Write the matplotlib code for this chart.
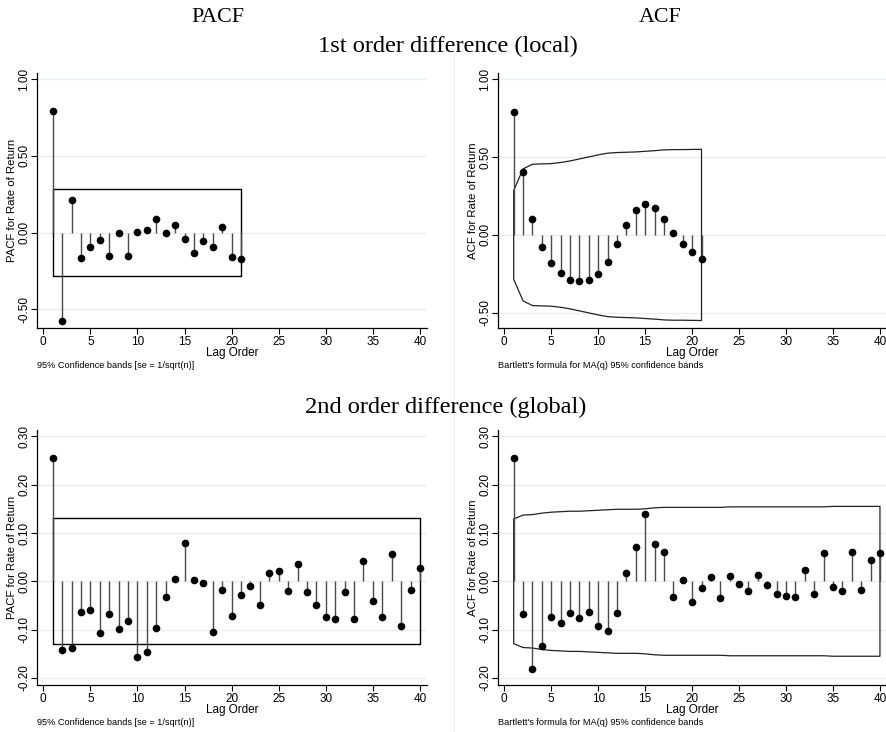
import numpy as np
import matplotlib
matplotlib.use('Agg')
import matplotlib.pyplot as plt
from matplotlib.lines import Line2D

plt.rcParams['font.family'] = ['Liberation Sans', 'DejaVu Sans']

# 1st order difference (local), lags 1-21
lags_local = np.arange(1, 22)
pacf_local = [0.790, -0.577, 0.211, -0.165, -0.096, -0.046, -0.155, 0.000, -0.155, 0.002,
              0.015, 0.091, 0.000, 0.052, -0.044, -0.133, -0.052, -0.094, 0.035, -0.157, -0.170]
acf_local = [0.788, 0.405, 0.103, -0.075, -0.182, -0.246, -0.289, -0.298, -0.289, -0.248,
             -0.173, -0.056, 0.062, 0.158, 0.201, 0.173, 0.101, 0.011, -0.060, -0.113, -0.154]
pacf_band_local = 0.283
acf_band_local = [0.285, 0.424, 0.454, 0.456, 0.458, 0.465, 0.475, 0.488, 0.501, 0.514,
                  0.525, 0.529, 0.531, 0.533, 0.537, 0.541, 0.546, 0.548, 0.548, 0.549, 0.550]

# 2nd order difference (global), lags 1-40
lags_global = np.arange(1, 41)
pacf_global = [0.255, -0.142, -0.137, -0.063, -0.059, -0.106, -0.067, -0.099, -0.083, -0.157,
               -0.147, -0.096, -0.032, 0.004, 0.079, 0.002, -0.003, -0.104, -0.019, -0.072,
               -0.028, -0.009, -0.048, 0.017, 0.021, -0.020, 0.036, -0.022, -0.050, -0.074,
               -0.079, -0.023, -0.077, 0.042, -0.041, -0.074, 0.057, -0.092, -0.017, 0.028]
acf_global = [0.255, -0.068, -0.181, -0.134, -0.074, -0.086, -0.066, -0.075, -0.063, -0.093,
              -0.102, -0.065, 0.017, 0.072, 0.139, 0.078, 0.061, -0.032, 0.003, -0.042,
              -0.013, 0.008, -0.034, 0.012, -0.005, -0.021, 0.014, -0.008, -0.026, -0.030,
              -0.032, 0.023, -0.026, 0.059, -0.011, -0.021, 0.061, -0.017, 0.044, 0.059]
pacf_band_global = 0.130
acf_band_global = [0.129, 0.137, 0.138, 0.141, 0.143, 0.144, 0.145, 0.145, 0.146, 0.147,
                   0.148, 0.149, 0.149, 0.149, 0.150, 0.152, 0.153, 0.153, 0.153, 0.153,
                   0.153, 0.153, 0.153, 0.154, 0.154, 0.154, 0.154, 0.154, 0.154, 0.154,
                   0.154, 0.154, 0.154, 0.154, 0.155, 0.155, 0.155, 0.155, 0.155, 0.155]

W, H = 887, 732
fig = plt.figure(figsize=(W / 100, H / 100), dpi=100)
fig.patch.set_facecolor('white')


def px_axes(x0, y0, x1, y1):
    return fig.add_axes([x0 / W, 1 - y1 / H, (x1 - x0) / W, (y1 - y0) / H])


def style(ax, ylim, yticks, ylabel, note):
    ax.set_xlim(-0.67, 40.75)
    ax.set_ylim(*ylim)
    ax.set_xticks(range(0, 41, 5))
    ax.set_yticks(yticks)
    ax.set_yticklabels(['%.2f' % t for t in yticks], rotation=90, va='center')
    ax.tick_params(labelsize=8.5, length=4, width=0.8, pad=2, color='black')
    ax.tick_params(axis='y', pad=1)
    for s in ['top', 'right']:
        ax.spines[s].set_visible(False)
    for s in ['left', 'bottom']:
        ax.spines[s].set_linewidth(0.9)
    ax.yaxis.grid(True, color='#e6eff1', lw=0.9)
    ax.set_axisbelow(True)
    ax.set_xlabel('Lag Order', fontsize=8.5, labelpad=-1)
    ax.set_ylabel(ylabel, fontsize=8.2)
    ax.yaxis.set_label_coords(-0.052, 0.5)
    ax.text(0.0, -0.128, note, transform=ax.transAxes, fontsize=6.6, ha='left', va='top')


def stems(ax, lags, vals):
    ax.vlines(lags, 0, vals, color='#4a4a4a', lw=1.0, zorder=2)
    ax.plot(lags, vals, 'o', color='black', ms=4.5, zorder=3)


note_pacf = '95% Confidence bands [se = 1/sqrt(n)]'
note_acf = "Bartlett's formula for MA(q) 95% confidence bands"

# top-left: PACF local
ax1 = px_axes(37, 73, 427, 328)
style(ax1, (-0.622, 1.04), [-0.5, 0.0, 0.5, 1.0], 'PACF for Rate of Return', note_pacf)
ax1.fill_between([lags_local[0], lags_local[-1]], -pacf_band_local, pacf_band_local,
                 facecolor='none', edgecolor='black', lw=1.0, zorder=1)
stems(ax1, lags_local, pacf_local)

# top-right: ACF local
ax2 = px_axes(498, 73, 887, 328)
style(ax2, (-0.598, 1.04), [-0.5, 0.0, 0.5, 1.0], 'ACF for Rate of Return', note_acf)
b = np.array(acf_band_local)
ax2.fill_between(lags_local, -b, b, facecolor='none', edgecolor='#222222', lw=0.9, zorder=1)
stems(ax2, lags_local, acf_local)

# bottom-left: PACF global
ax3 = px_axes(37, 430, 427, 685)
style(ax3, (-0.2145, 0.313), [-0.2, -0.1, 0.0, 0.1, 0.2, 0.3], 'PACF for Rate of Return', note_pacf)
ax3.fill_between([lags_global[0], lags_global[-1]], -pacf_band_global, pacf_band_global,
                 facecolor='none', edgecolor='black', lw=1.0, zorder=1)
stems(ax3, lags_global, pacf_global)

# bottom-right: ACF global
ax4 = px_axes(498, 430, 887, 685)
style(ax4, (-0.2145, 0.313), [-0.2, -0.1, 0.0, 0.1, 0.2, 0.3], 'ACF for Rate of Return', note_acf)
b = np.array(acf_band_global)
ax4.fill_between(lags_global, -b, b, facecolor='none', edgecolor='#222222', lw=0.9, zorder=1)
stems(ax4, lags_global, acf_global)

# separator between columns
fig.add_artist(Line2D([454 / W, 454 / W], [0, 1 - 55 / H], color='#eceeee', lw=0.8))

serif = ['Liberation Serif', 'DejaVu Serif']
fig.text(218 / W, 1 - 17 / H, 'PACF', family=serif, fontsize=15.8, ha='center', va='center')
fig.text(660 / W, 1 - 17 / H, 'ACF', family=serif, fontsize=15.8, ha='center', va='center')
fig.text(448 / W, 1 - 46 / H, '1st order difference (local)', family=serif, fontsize=17.6,
         ha='center', va='center')
fig.text(446 / W, 1 - 407 / H, '2nd order difference (global)', family=serif, fontsize=17.6,
         ha='center', va='center')

fig.savefig('out.png', dpi=100, facecolor='white')
